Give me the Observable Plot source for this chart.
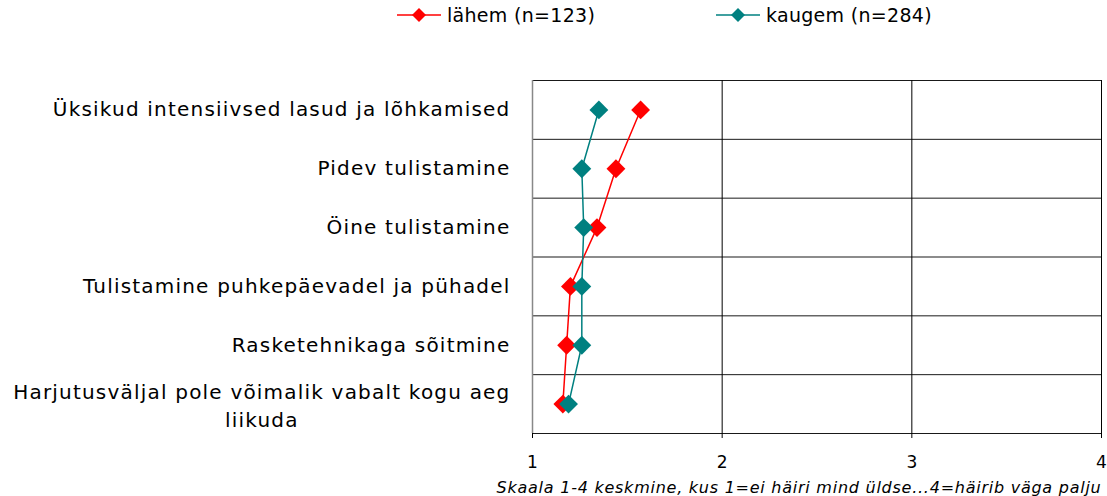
<!DOCTYPE html>
<html><head><meta charset="utf-8">
<script src="https://cdn.jsdelivr.net/npm/d3@7"></script>
<script src="https://cdn.jsdelivr.net/npm/@observablehq/plot@0.6"></script>
<style>
body{margin:0;background:#fff;}
#wrap{position:relative;width:1107px;height:496px;font-family:"DejaVu Sans",sans-serif;}
#legend{position:absolute;top:0;left:0;width:1107px;height:30px;}
.item{position:absolute;top:5px;display:flex;align-items:center;font-size:19px;color:#000;line-height:20px;letter-spacing:0.3px;}
.item svg{margin-right:6px;}
</style></head><body>
<div id="wrap"><div id="chart"></div><div id="legend"></div></div>
<script>
const categories = [
  "Üksikud intensiivsed lasud ja lõhkamised",
  "Pidev tulistamine",
  "Öine tulistamine",
  "Tulistamine puhkepäevadel ja pühadel",
  "Rasketehnikaga sõitmine",
  "Harjutusväljal pole võimalik vabalt kogu aeg liikuda"
];
const labelLines = [
  ["Üksikud intensiivsed lasud ja lõhkamised"],
  ["Pidev tulistamine"],
  ["Öine tulistamine"],
  ["Tulistamine puhkepäevadel ja pühadel"],
  ["Rasketehnikaga sõitmine"],
  ["Harjutusväljal pole võimalik vabalt kogu aeg", "liikuda"]
];
const lahem = [1.57, 1.44, 1.34, 1.20, 1.18, 1.16];
const kaugem = [1.35, 1.26, 1.27, 1.26, 1.26, 1.19];
const seriesNames = ["lähem (n=123)", "kaugem (n=284)"];
const seriesColors = ["#FF0000", "#008080"];
const xTicks = [1, 2, 3, 4];
const caption = "Skaala 1-4 keskmine, kus 1=ei häiri mind üldse...4=häirib väga palju";

const LABEL_FONT = 20;
const LABEL_LS = 1.2;
const CAPTION_FONT = 16;
const CAPTION_LS = 0.75;
const rowsL = categories.map((c, i) => ({cat: c, idx: i, value: lahem[i]}));
const rowsK = categories.map((c, i) => ({cat: c, idx: i, value: kaugem[i]}));
const labels = categories.map((c, i) => ({idx: i, lines: labelLines[i]}));
const singles = labels.filter(d => d.lines.length === 1);
const multis = labels.filter(d => d.lines.length > 1);

const ctx = document.createElement("canvas").getContext("2d");
ctx.font = `${LABEL_FONT}px "DejaVu Sans"`;
const multiMarks = multis.map(d => {
  const w = Math.max(...d.lines.map(l => ctx.measureText(l).width + LABEL_LS * l.length));
  return Plot.text([d], {
    y: r => r.idx + 0.5, frameAnchor: "left", textAnchor: "middle",
    text: r => r.lines.join("\n"), dx: -22 - w / 2, fontSize: LABEL_FONT, lineHeight: 1.4, fill: "#000"
  });
});

const chart = Plot.plot({
  width: 1107, height: 496,
  marginLeft: 532, marginRight: 6, marginTop: 80, marginBottom: 63,
  style: {fontFamily: "'DejaVu Sans', sans-serif", background: "#fff", color: "#000"},
  x: {domain: [1, 4], label: null},
  y: {domain: [0, categories.length], reverse: true, axis: null},
  marks: [
    Plot.ruleY(d3.range(categories.length + 1), {stroke: "#000", strokeOpacity: 0.9}),
    Plot.ruleX(xTicks.slice(1), {stroke: "#000"}),
    Plot.ruleX(xTicks.slice(0, 1), {stroke: "#888", strokeWidth: 1.5}),
    Plot.axisX({ticks: xTicks, tickSize: 5, tickPadding: 17, fontSize: 17, label: null, tickFormat: d => String(d)}),
    Plot.line(rowsL, {x: "value", y: d => d.idx + 0.5, stroke: seriesColors[0], strokeWidth: 1.5}),
    Plot.dot(rowsL, {x: "value", y: d => d.idx + 0.5, symbol: "diamond2", r: 8.5, fill: seriesColors[0], stroke: "none"}),
    Plot.line(rowsK, {x: "value", y: d => d.idx + 0.5, stroke: seriesColors[1], strokeWidth: 1.5}),
    Plot.dot(rowsK, {x: "value", y: d => d.idx + 0.5, symbol: "diamond2", r: 8.5, fill: seriesColors[1], stroke: "none"}),
    Plot.text(singles, {y: d => d.idx + 0.5, frameAnchor: "left", textAnchor: "end", text: d => d.lines[0], dx: -22, fontSize: LABEL_FONT, fill: "#000"}),
    ...multiMarks,
    Plot.text([caption], {frameAnchor: "bottom-right", textAnchor: "end", lineAnchor: "middle", dy: 54, fontSize: CAPTION_FONT, fontStyle: "italic", fill: "#000"})
  ]
});
d3.select(chart).selectAll("g").filter(function() { return this.getAttribute("font-size") === String(LABEL_FONT); })
  .selectAll("text").style("letter-spacing", LABEL_LS + "px");
d3.select(chart).selectAll("g").filter(function() { return this.getAttribute("font-size") === String(CAPTION_FONT); })
  .selectAll("text").style("letter-spacing", CAPTION_LS + "px");
document.getElementById("chart").appendChild(chart);

const legendPos = [397, 716];
const legend = document.getElementById("legend");
seriesNames.forEach((name, i) => {
  const item = document.createElement("div");
  item.className = "item";
  item.style.left = legendPos[i] + "px";
  item.innerHTML = `<svg width="44" height="20"><line x1="0" x2="44" y1="10" y2="10" stroke="${seriesColors[i]}" stroke-width="1.5"/><path d="M22,3L29,10L22,17L15,10Z" fill="${seriesColors[i]}"/></svg><span>${name}</span>`;
  legend.appendChild(item);
});
</script>
</body></html>
